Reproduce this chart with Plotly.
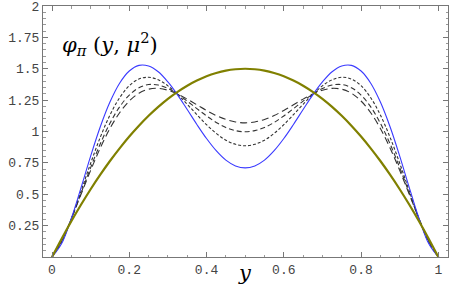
import plotly.graph_objects as go

y_vals = [0, 0.025, 0.05, 0.075, 0.1, 0.125, 0.15, 0.175, 0.2, 0.225, 0.25, 0.275, 0.3, 0.325,
          0.35, 0.375, 0.4, 0.425, 0.45, 0.475, 0.5, 0.525, 0.55, 0.575, 0.6, 0.625, 0.65, 0.675,
          0.7, 0.725, 0.75, 0.775, 0.8, 0.825, 0.85, 0.875, 0.9, 0.925, 0.95, 0.975, 1]

phi_blue = [0, 0.107, 0.307, 0.551, 0.804, 1.038, 1.235, 1.385, 1.482, 1.527, 1.522, 1.476, 1.395, 1.292,
            1.175, 1.056, 0.944, 0.847, 0.772, 0.726, 0.710, 0.726, 0.772, 0.847, 0.944, 1.056, 1.175, 1.292,
            1.395, 1.476, 1.522, 1.527, 1.482, 1.385, 1.235, 1.038, 0.804, 0.551, 0.307, 0.107, 0]

phi_dot = [0, 0.117, 0.304, 0.524, 0.747, 0.954, 1.131, 1.269, 1.365, 1.418, 1.432, 1.412, 1.364, 1.296,
           1.217, 1.134, 1.054, 0.985, 0.931, 0.898, 0.886, 0.898, 0.931, 0.985, 1.054, 1.134, 1.217, 1.296,
           1.364, 1.412, 1.432, 1.418, 1.365, 1.269, 1.131, 0.954, 0.747, 0.524, 0.304, 0.117, 0]

phi_med = [0, 0.125, 0.304, 0.507, 0.712, 0.902, 1.065, 1.196, 1.290, 1.349, 1.374, 1.370, 1.343, 1.298,
           1.242, 1.182, 1.124, 1.072, 1.032, 1.007, 0.998, 1.007, 1.032, 1.072, 1.124, 1.182, 1.242, 1.298,
           1.343, 1.370, 1.374, 1.349, 1.290, 1.196, 1.065, 0.902, 0.712, 0.507, 0.304, 0.125, 0]

phi_long = [0, 0.130, 0.305, 0.498, 0.690, 0.869, 1.024, 1.149, 1.243, 1.305, 1.337, 1.344, 1.329, 1.299,
            1.258, 1.213, 1.168, 1.127, 1.096, 1.076, 1.069, 1.076, 1.096, 1.127, 1.168, 1.213, 1.258, 1.299,
            1.329, 1.344, 1.337, 1.305, 1.243, 1.149, 1.024, 0.869, 0.690, 0.498, 0.305, 0.130, 0]

phi_asy = [0, 0.146, 0.285, 0.416, 0.540, 0.656, 0.765, 0.866, 0.960, 1.046, 1.125, 1.196, 1.260, 1.316,
           1.365, 1.406, 1.440, 1.466, 1.485, 1.496, 1.500, 1.496, 1.485, 1.466, 1.440, 1.406, 1.365, 1.316,
           1.260, 1.196, 1.125, 1.046, 0.960, 0.866, 0.765, 0.656, 0.540, 0.416, 0.285, 0.146, 0]

x_ticks = [0, 0.2, 0.4, 0.6, 0.8, 1]
x_tick_labels = ["0", "0.2", "0.4", "0.6", "0.8", "1"]
y_ticks = [0.25, 0.5, 0.75, 1, 1.25, 1.5, 1.75, 2]
y_tick_labels = ["0.25", "0.5", "0.75", "1", "1.25", "1.5", "1.75", "2"]

fig = go.Figure()
fig.add_trace(go.Scatter(x=y_vals, y=phi_long, mode="lines", line_shape="spline",
                         line=dict(color="#333333", width=1.1, dash="7px,4px")))
fig.add_trace(go.Scatter(x=y_vals, y=phi_med, mode="lines", line_shape="spline",
                         line=dict(color="#333333", width=1.1, dash="5px,3px")))
fig.add_trace(go.Scatter(x=y_vals, y=phi_dot, mode="lines", line_shape="spline",
                         line=dict(color="#333333", width=1.1, dash="3px,2px")))
fig.add_trace(go.Scatter(x=y_vals, y=phi_blue, mode="lines", line_shape="spline",
                         line=dict(color="#3a3aff", width=1.1)))
fig.add_trace(go.Scatter(x=y_vals, y=phi_asy, mode="lines", line_shape="spline",
                         line=dict(color="#808000", width=2.2)))

axis_common = dict(
    showline=True, linecolor="#777777", linewidth=1, mirror="ticks",
    ticks="inside", ticklen=5, tickcolor="#777777", tickwidth=1,
    showgrid=False, zeroline=False, automargin=False, ticklabeloverflow="allow",
    tickfont=dict(family="Liberation Mono, Courier New, monospace", size=13, color="#444444"),
)

fig.update_layout(
    width=450, height=286,
    margin=dict(l=43, r=2, t=6, b=29),
    paper_bgcolor="white", plot_bgcolor="white",
    showlegend=False,
    xaxis=dict(range=[-0.0233, 1.025], tickvals=x_ticks, ticktext=x_tick_labels,
               minor=dict(dtick=0.05, ticklen=2.5, tickcolor="#999999", ticks="inside"),
               **axis_common),
    yaxis=dict(range=[0, 2], tickvals=y_ticks, ticktext=y_tick_labels,
               minor=dict(dtick=0.05, ticklen=2.5, tickcolor="#999999", ticks="inside"),
               **axis_common),
    annotations=[
        dict(text="<i>φ</i><sub><i>π</i></sub> (<i>y</i>, <i>μ</i><sup>2</sup>)",
             xref="paper", yref="paper", x=0.042, y=0.85, xanchor="left", yanchor="middle",
             showarrow=False,
             font=dict(family="DejaVu Serif, Liberation Serif, serif", size=21, color="black")),
        dict(text="<i>y</i>", xref="x", yref="paper", x=0.5, y=-0.062, xanchor="center",
             yanchor="middle", showarrow=False,
             font=dict(family="DejaVu Serif, Liberation Serif, serif", size=21, color="black")),
    ],
)

fig.write_html("out.html", config={"displayModeBar": False},
               post_script="document.body.style.margin='0';")
